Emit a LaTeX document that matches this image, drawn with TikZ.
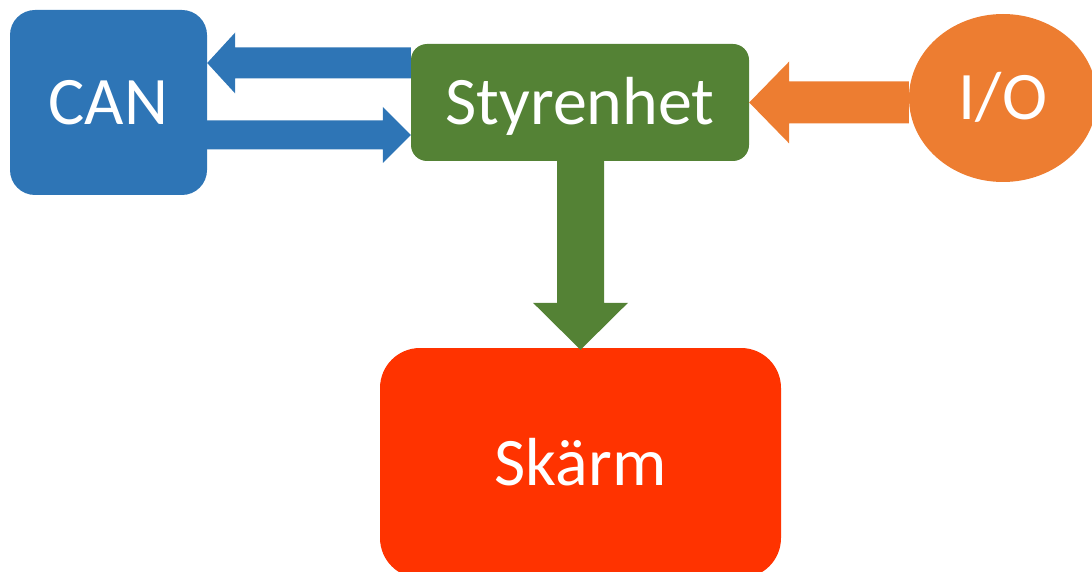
\documentclass[tikz,border=0pt]{standalone}
\usepackage{fontspec}
\setmainfont{Carlito}
\usetikzlibrary{calc,shapes.geometric}
\definecolor{cblue}{HTML}{2E75B6}
\definecolor{cgreen}{HTML}{548235}
\definecolor{corange}{HTML}{ED7D31}
\definecolor{cred}{HTML}{FF3300}
% horizontal block arrow: color, tip, tail, shaft half, head half, head length (signed)
\newcommand\hblockarrow[6]{%
  \fill[#1] let \p1=(#2), \p2=(#3) in
    (\p1) -- (\x1+#6pt,\y1+#5pt) -- (\x1+#6pt,\y1+#4pt) -- (\x2,\y1+#4pt)
    -- (\x2,\y1-#4pt) -- (\x1+#6pt,\y1-#4pt) -- (\x1+#6pt,\y1-#5pt) -- cycle;}
% vertical block arrow: color, tip, tail, shaft half, head half, head length (signed)
\newcommand\vblockarrow[6]{%
  \fill[#1] let \p1=(#2), \p2=(#3) in
    (\p1) -- (\x1+#5pt,\y1+#6pt) -- (\x1+#4pt,\y1+#6pt) -- (\x1+#4pt,\y2)
    -- (\x1-#4pt,\y2) -- (\x1-#4pt,\y1+#6pt) -- (\x1-#5pt,\y1+#6pt) -- cycle;}
\begin{document}
\begin{tikzpicture}[x=1pt,y=-1pt,
  box/.style={inner sep=0pt, text=white, font=\fontsize{68}{80}\selectfont,
    text height=44pt, text depth=0pt},
  rbox/.style={box, rectangle}]
\useasboundingbox (0,0) rectangle (1092,572);
\node[rbox, fill=cblue, rounded corners=25pt, minimum width=197pt, minimum height=185pt] (can) at (108.5,102.5) {CAN};
\node[rbox, fill=cgreen, rounded corners=16pt, minimum width=338pt, minimum height=117pt] (sty) at (580,102.5) {Styrenhet};
\node[box, ellipse, fill=corange, minimum width=188pt, minimum height=168pt] (io) at (1003,98) {I/O};
\node[rbox, fill=cred, rounded corners=40pt, minimum width=401pt, minimum height=230pt] (skarm) at (580.5,463) {Skärm};
\coordinate (a1tip) at ([yshift=39.5pt]can.east);
\coordinate (a1tail) at (sty.west |- a1tip);
\hblockarrow{cblue}{a1tip}{a1tail}{15.5}{30.5}{28}
\coordinate (a2tip) at ([yshift=-32.5pt]sty.west);
\coordinate (a2tail) at (can.east |- a2tip);
\hblockarrow{cblue}{a2tip}{a2tail}{14.5}{28}{-28}
\coordinate (a3tip) at (sty.east);
\coordinate (a3tail) at (io.west |- a3tip);
\hblockarrow{corange}{a3tip}{a3tail}{21}{41}{40}
\coordinate (a4tip) at ([yshift=-2pt]skarm.north);
\coordinate (a4tail) at (sty.south);
\vblockarrow{cgreen}{a4tip}{a4tail}{23.5}{47.5}{47}
\end{tikzpicture}
\end{document}
